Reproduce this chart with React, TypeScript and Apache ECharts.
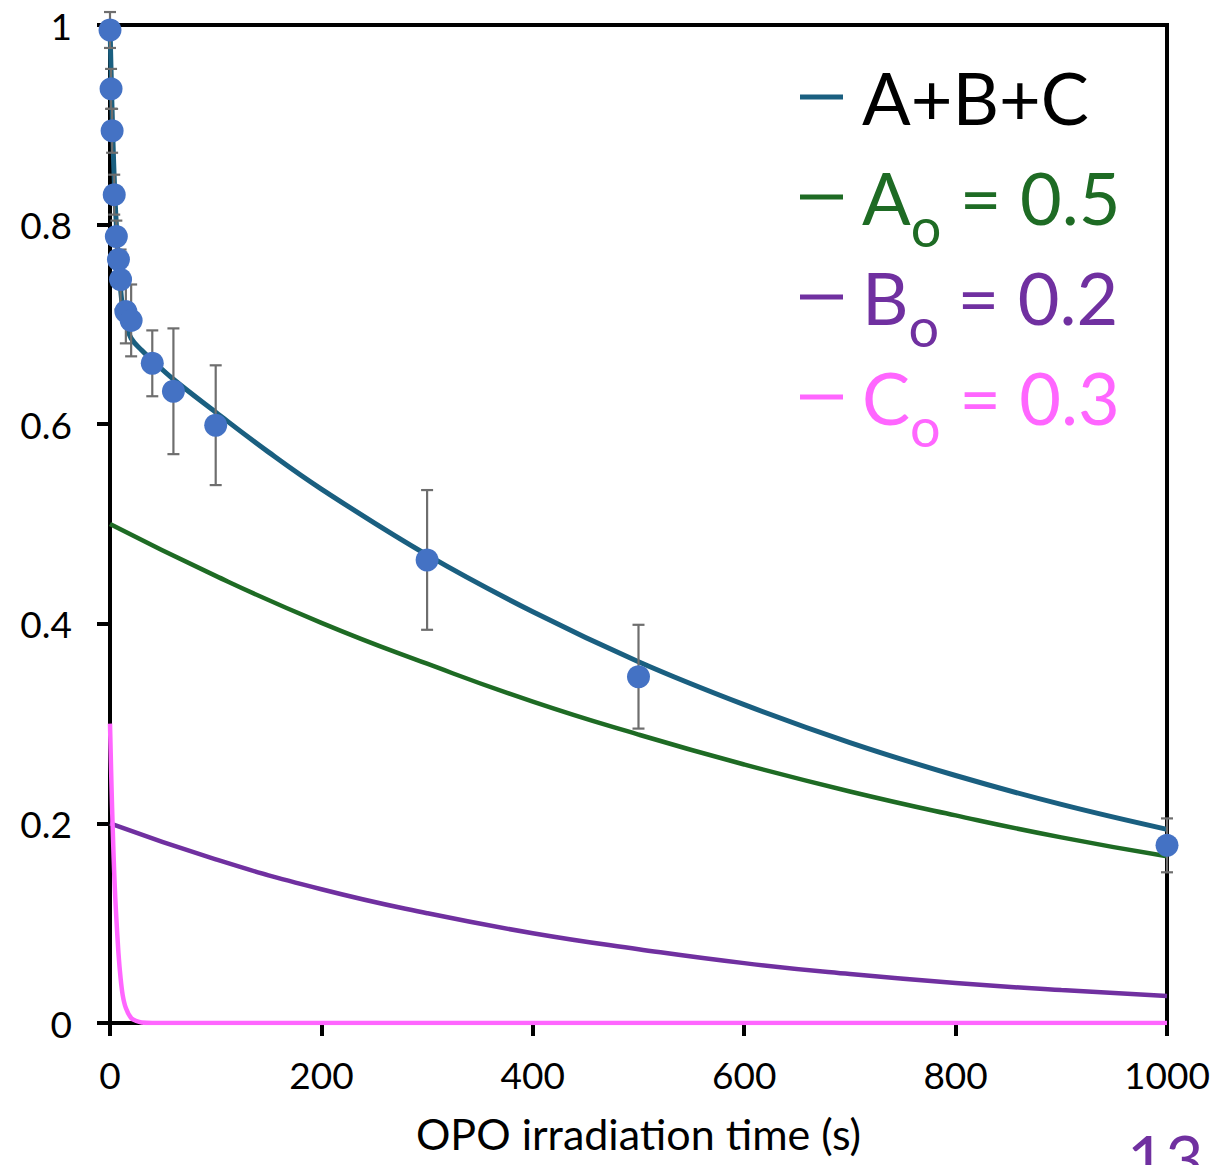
import React, { useEffect, useRef } from "react";
import * as echarts from "echarts";

// Measured points (OPO irradiation time in s, normalized signal, error)
const timeS = [0, 1, 2, 4, 6, 8, 10, 15, 20, 40, 60, 100, 300, 500, 1000];
const measured = [0.995, 0.936, 0.894, 0.83, 0.788, 0.765, 0.745, 0.713, 0.704, 0.661, 0.633, 0.599, 0.464, 0.347, 0.178];
const errorBar = [0.018, 0.02, 0.022, 0.02, 0.016, 0.025, 0.03, 0.032, 0.036, 0.033, 0.063, 0.06, 0.07, 0.052, 0.027];

// Fit curves
const totalT = [0, 1, 2, 3, 4, 5, 6, 8, 10, 12, 15, 20, 30, 40, 60, 100, 150, 200, 300, 400, 500, 600, 700, 800, 900, 1000];
const totalV = [1.0, 0.954, 0.913, 0.877, 0.846, 0.82, 0.8, 0.763, 0.736, 0.716, 0.701, 0.686, 0.674, 0.664, 0.645, 0.612, 0.572, 0.535, 0.469, 0.412, 0.362, 0.319, 0.281, 0.248, 0.219, 0.194];

const compT = [0, 100, 200, 300, 400, 500, 600, 700, 800, 900, 1000];
const compA = [0.5, 0.448, 0.401, 0.36, 0.322, 0.289, 0.259, 0.232, 0.208, 0.186, 0.167];
const compB = [0.2, 0.164, 0.134, 0.11, 0.09, 0.074, 0.06, 0.049, 0.04, 0.033, 0.027];

const compCT = [0, 1, 2, 3, 4, 5, 6, 8, 10, 12, 15, 20, 25, 30, 40, 1000];
const compC = [0.3, 0.255, 0.215, 0.18, 0.15, 0.125, 0.105, 0.07, 0.045, 0.028, 0.015, 0.005, 0.002, 0.0005, 0, 0];

const xTicks = [0, 200, 400, 600, 800, 1000];
const seriesNames = ["A+B+C", "Ao = 0.5", "Bo = 0.2", "Co = 0.3"];
const legendMain = ["A+B+C", "A", "B", "C"];
const legendSub = [" ", "o", "o", "o"];
const legendTail = ["", " = 0.5", " = 0.2", " = 0.3"];

const COL_TOTAL = "#1A5F80";
const COL_A = "#1E6B24";
const COL_B = "#7030A0";
const COL_C = "#FF66FF";
const COL_PTS = "#4472C4";
const textColors = ["#000000", COL_A, COL_B, COL_C];

const FONT = "Lato";

function pairs(xs: number[], ys: number[]) {
  return xs.map((x, i) => [x, ys[i]]);
}

export default function App() {
  const ref = useRef<HTMLDivElement>(null);
  useEffect(() => {
    if (!ref.current) return;
    const chart = echarts.init(ref.current, null, { renderer: "svg" });
    const rich: any = {};
    textColors.forEach((c, i) => {
      rich["m" + i] = { fontSize: 72, lineHeight: 80, color: c, fontFamily: FONT };
      rich["s" + i] = {
        fontSize: 54,
        lineHeight: 20,
        verticalAlign: "top",
        padding: [42, 0, 0, 0],
        color: c,
        fontFamily: FONT,
      };
    });
    const option: any = {
      animation: false,
      backgroundColor: "#ffffff",
      grid: {
        left: 110,
        right: 52,
        top: 25,
        bottom: 142,
        show: true,
        borderColor: "#000",
        borderWidth: 4,
        backgroundColor: "transparent",
      },
      xAxis: {
        type: "value",
        min: 0,
        max: 1000,
        interval: 200,
        name: "OPO irradiation time (s)",
        nameLocation: "middle",
        nameGap: 89,
        nameTextStyle: { fontSize: 43, fontFamily: FONT, color: "#000" },
        axisLine: { show: true, onZero: false, lineStyle: { color: "#000", width: 4 } },
        axisTick: { show: true, length: 13, lineStyle: { color: "#000", width: 4 } },
        axisLabel: {
          fontSize: 37,
          fontFamily: FONT,
          color: "#000",
          margin: 33,
          formatter: (v: number) => (xTicks.includes(v) ? String(v) : ""),
        },
        splitLine: { show: false },
      },
      yAxis: {
        type: "value",
        min: 0,
        max: 1,
        interval: 0.2,
        axisLine: { show: true, onZero: false, lineStyle: { color: "#000", width: 4 } },
        axisTick: { show: true, length: 13, lineStyle: { color: "#000", width: 4 } },
        axisLabel: { fontSize: 37, fontFamily: FONT, color: "#000", margin: 38 },
        splitLine: { show: false },
      },
      legend: {
        orient: "vertical",
        left: 795,
        top: 52,
        itemWidth: 43,
        itemHeight: 5,
        itemGap: 4,
        icon: "rect",
        selectedMode: false,
        data: seriesNames.map((n) => ({ name: n })),
        formatter: (name: string) => {
          const i = seriesNames.indexOf(name);
          let s = "{m" + i + "|" + legendMain[i] + "}";
          if (legendSub[i]) s += "{s" + i + "|" + legendSub[i] + "}";
          if (legendTail[i]) s += "{m" + i + "|" + legendTail[i] + "}";
          return s;
        },
        textStyle: { rich, padding: [0, 0, 0, 14], fontFamily: FONT },
      },
      series: [
        {
          name: seriesNames[1],
          type: "line",
          data: pairs(compT, compA),
          smooth: true,
          showSymbol: false,
          lineStyle: { color: COL_A, width: 4.5 },
          itemStyle: { color: COL_A },
          z: 2,
        },
        {
          name: seriesNames[2],
          type: "line",
          data: pairs(compT, compB),
          smooth: true,
          showSymbol: false,
          lineStyle: { color: COL_B, width: 4.5 },
          itemStyle: { color: COL_B },
          z: 2,
        },
        {
          name: seriesNames[3],
          type: "line",
          data: pairs(compCT, compC),
          smooth: 0.3,
          showSymbol: false,
          lineStyle: { color: COL_C, width: 4.5 },
          itemStyle: { color: COL_C },
          z: 2,
        },
        {
          name: seriesNames[0],
          type: "line",
          data: pairs(totalT, totalV),
          smooth: 0.4,
          showSymbol: false,
          lineStyle: { color: COL_TOTAL, width: 5 },
          itemStyle: { color: COL_TOTAL },
          z: 3,
        },
        {
          name: "error",
          type: "custom",
          data: timeS.map((t, i) => [t, measured[i], errorBar[i]]),
          encode: { x: 0, y: 1 },
          z: 4,
          clip: false,
          renderItem: (params: any, api: any) => {
            const x = api.value(0);
            const y = api.value(1);
            const e = api.value(2);
            const top = api.coord([x, y + e]);
            const bot = api.coord([x, y - e]);
            const cap = 6;
            const style = { stroke: "#6E6E6E", lineWidth: 2.2 };
            return {
              type: "group",
              children: [
                { type: "line", shape: { x1: top[0], y1: top[1], x2: bot[0], y2: bot[1] }, style },
                { type: "line", shape: { x1: top[0] - cap, y1: top[1], x2: top[0] + cap, y2: top[1] }, style },
                { type: "line", shape: { x1: bot[0] - cap, y1: bot[1], x2: bot[0] + cap, y2: bot[1] }, style },
              ],
            };
          },
        },
        {
          name: "measured",
          type: "scatter",
          data: pairs(timeS, measured),
          symbol: "circle",
          symbolSize: 23,
          clip: false,
          itemStyle: { color: COL_PTS, opacity: 1 },
          z: 5,
        },
      ],
      graphic: [
        {
          type: "text",
          left: 1127,
          top: 1124,
          style: { text: "13", fontSize: 66, fontFamily: FONT, fill: COL_B },
        },
      ],
    };
    chart.setOption(option);
    return () => chart.dispose();
  }, []);
  return (
    <div
      ref={ref}
      style={{ position: "absolute", left: 0, top: 0, width: 1219, height: 1165, background: "#fff" }}
    />
  );
}
